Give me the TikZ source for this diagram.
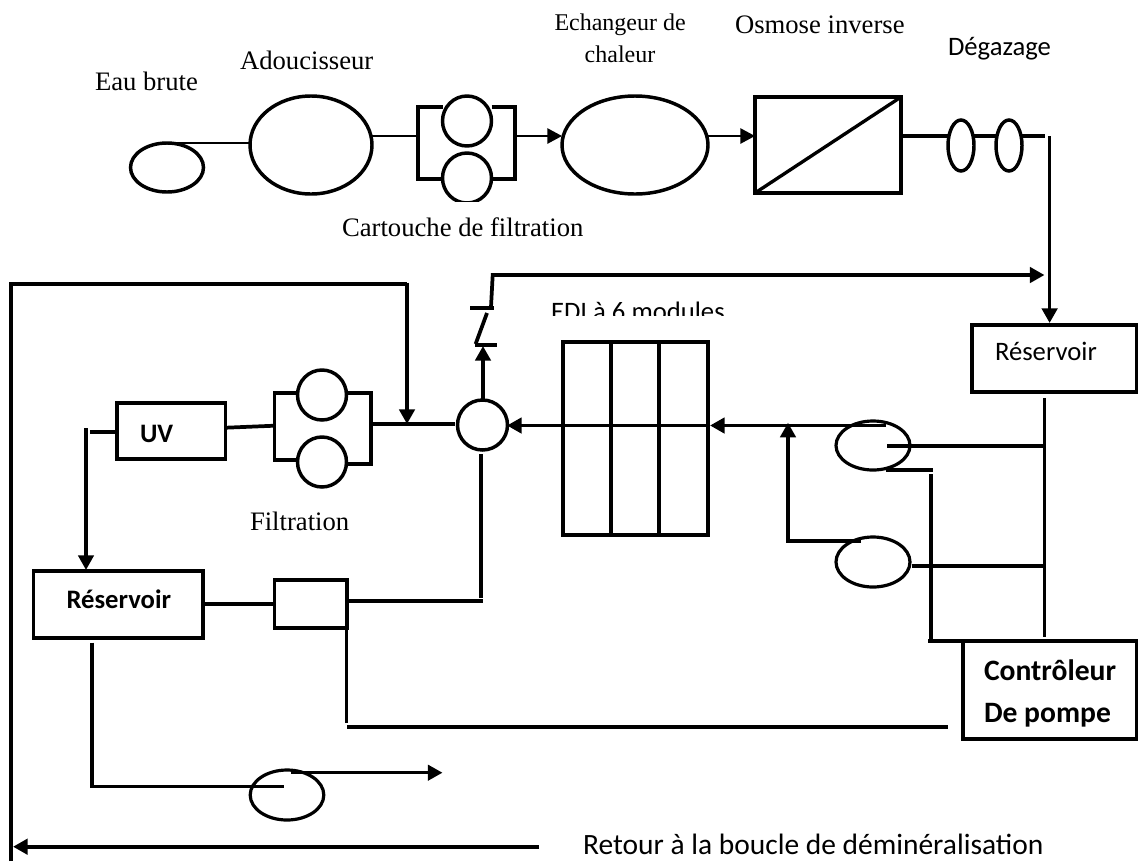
\documentclass[tikz,border=0pt]{standalone}
\usepackage{fontspec}
\setmainfont{Liberation Serif}
\newfontfamily\carl{Carlito}
\usetikzlibrary{arrows.meta,shapes.geometric}
\tikzset{
  wh/.style 2 args={minimum width=#1*0.75pt,minimum height=#2*0.75pt},
  every node/.style={inner sep=0pt,outer sep=0pt},
  ell/.style={draw,ellipse,line width=2.6pt},
  thinell/.style={draw,ellipse,line width=2.4pt},
  boxn/.style={draw,rectangle,line width=2.8pt},
  thickl/.style={line width=2.8pt},
  midl/.style={line width=2.5pt},
  thinl/.style={line width=1.2pt},
  tip/.style={-{Triangle[length=11pt,width=11.5pt]}},
  serif/.style={anchor=base west,font=\fontsize{20}{24}\selectfont},
  serifs/.style={anchor=base west,font=\fontsize{18}{22}\selectfont},
  cali/.style={anchor=base west,font=\carl\fontsize{20}{24}\selectfont},
  calil/.style={anchor=base west,font=\carl\fontsize{22.1}{26}\selectfont},
  calib/.style={anchor=base west,font=\carl\bfseries\fontsize{20}{24}\selectfont},
  calibl/.style={anchor=base west,font=\carl\bfseries\fontsize{22.2}{26}\selectfont},
}
\begin{document}
\begin{tikzpicture}[x=0.75pt,y=-0.75pt,line cap=butt]
\useasboundingbox (0,0) rectangle (1138,861);
% labels
\node[serif] (t1) at (95,90) {Eau brute};
\node[serif] (t2) at (240,69) {Adoucisseur};
\node[serif] (t3) at (342,236.7) {Cartouche de filtration};
\node[serifs] (t4) at (554.5,30.7) {Echangeur de};
\node[serifs,anchor=base] (t5) at (620,62) {chaleur};
\node[serif] (t6) at (735,33) {Osmose inverse};
\node[cali] (t7) at (948,55) {Dégazage};
\node[serif] (t8) at (250,530) {Filtration};
\begin{scope}
  \clip (540,290) rectangle (740,315);
  \node[cali] (t9) at (551,320) {EDI à 6 modules};
\end{scope}
\node[calil] (t10) at (583,854.5) {Retour à la boucle de déminéralisation};
% top row
\node[ell,wh={73}{49}] (eau) at (167,167.5) {};
\node[ell,wh={122}{98}] (adou) at (311,145) {};
\node[ell,wh={49}{50}] (f1) at (467,121) {};
\begin{scope}
  \clip (430,140) rectangle (505,201);
  \node[ell,wh={49}{50}] (f2) at (467,178) {};
\end{scope}
\node[ell,wh={146}{98}] (ech) at (635,145) {};
\node[boxn,wh={146}{96}] (oi) at (828,145) {};
\node[ell,wh={26}{51}] (d1) at (961,145.5) {};
\node[ell,wh={26}{51}] (d2) at (1009,145.5) {};
% middle
\node[boxn,wh={165}{67},anchor=north west] (res1) at (972,325) {};
\node[cali] (res1t) at (995,360.7) {Réservoir};
\node[boxn,wh={145}{193},anchor=north west] (edi) at (563,341.7) {};
\node[ell,wh={50}{50}] (mix) at (482.5,425) {};
\node[thinell,wh={74}{49}] (p1) at (873,445.5) {};
\node[thinell,wh={74}{50}] (p2) at (873,562) {};
\node[ell,wh={49}{50}] (g1) at (322,395) {};
\node[ell,wh={49}{50}] (g2) at (322,462) {};
\node[boxn,wh={108.5}{56},anchor=north west] (uv) at (117,403) {};
\node[calib] (uvt) at (140,442) {UV};
% lower
\node[boxn,wh={169.5}{67},anchor=north west] (res2) at (33.5,571) {};
\node[calib] (res2t) at (66.5,608) {Réservoir};
\node[boxn,wh={72.5}{47.7},anchor=north west] (sq) at (274.5,580) {};
\node[boxn,wh={174}{98.3},anchor=north west] (ctl) at (963,640.7) {};
\node[calibl] (ctl1) at (984,680.7) {Contrôleur};
\node[calibl] (ctl2) at (984,722) {De pompe};
\node[thinell,wh={73.6}{50}] (p3) at (287,795) {};
% free ends
\coordinate (topL) at (418,107);
\coordinate (topR) at (515,107);
\coordinate (botL) at (418,179);
\coordinate (botR) at (515,179);
\coordinate (gTL) at (274.5,393);
\coordinate (gTR) at (371,393);
\coordinate (gBL) at (274.5,460);
\coordinate (gBR) at (371,464);
\coordinate (gIn) at (274.5,425.7);
\coordinate (gOut) at (371,424);
\coordinate (joinTop) at (407,424);
% top connectors
\draw[thinl] (eau.north) -- (eau.north -| adou.west);
\draw[thinl] (372,136) -- (topL |- 0,136);
\draw[thickl] (f1.west |- topL) -- (topL) -- (botL) -- (f2.west |- botL);
\draw[thickl] (f1.east |- topR) -- (topR) -- (botR) -- (f2.east |- botR);
\draw[thinl,tip] (517,136) -- (ech.west |- 0,136);
\draw[thinl,tip] (708,136) -- (oi.west |- 0,136);
\draw[midl] (oi.south west) -- (oi.north east);
\draw[midl] (oi.east |- 0,136) -- (d1.west |- 0,136);
\draw[midl] (d1.east |- 0,136) -- (d2.west |- 0,136);
\draw[midl] (d2.east |- 0,136) -- (1044.5,136);
\draw[thickl,tip] (1049.6,136) -- (1049.6,323);
% recirculation and switch
\draw[thickl,tip] (483,399) -- (483,346);
\draw[thickl] (475,344.7) -- (497,344.7);
\draw[thickl] (487,313) -- (475.6,344);
\draw[thickl] (470,308) -- (494,308);
\draw[thickl,tip] (491,307) -- (492.7,275) -- (1044.5,275);
% outer loop
\draw[thickl] (11,861) -- (11,284) -- (407,284);
\draw[thickl,tip] (407,282.7) -- (joinTop);
\draw[thickl,tip] (539,846.7) -- (13,846.7);
% filter bank 2
\draw[thickl] (g1.west |- gTL) -- (gTL) -- (gBL) -- (g2.west |- gBL);
\draw[thickl] (g1.east |- gTR) -- (gTR) -- (gBR) -- (g2.east |- gBR);
\draw[thickl] (gOut) -- (454.5,424);
\draw[thickl] (226,427.7) -- (gIn);
\draw[thickl] (90,432) -- (114.5,432);
\draw[midl,tip] (86,428) -- (86,570);
% EDI
\draw[thickl] (611,341.7) -- (611,535);
\draw[thickl] (659,341.7) -- (659,535);
\draw[thickl,tip] (886,425.5) -- (710,425.5);
\draw[thickl,tip] (708,425.5) -- (507,425.5);
% pumps
\draw[thickl] (887,445.7) -- (1044.5,445.7);
\draw[thickl] (886,470) -- (933,470);
\draw[thickl] (931,474) -- (931,640);
\draw[thickl] (928,640.7) -- (983,640.7);
\draw[thickl] (1044.5,398) -- (1044.5,637);
\draw[thickl,tip] (861,540.7) -- (788,540.7) -- (788,422.7);
\draw[thickl] (912,565.7) -- (1044.5,565.7);
% lower
\draw[thickl] (481,454) -- (481,597.7);
\draw[thickl] (349,601) -- (483,601);
\draw[thickl] (res2.east |- 0,603.7) -- (sq.west |- 0,603.7);
\draw[thickl] (346.5,627) -- (346.5,723);
\draw[thickl] (347,727) -- (948,727);
\draw[midl] (92,642.7) -- (92,786.7) -- (283.6,786.7);
\draw[midl,tip] (291,772.7) -- (442.5,772.7);
\end{tikzpicture}
\end{document}
